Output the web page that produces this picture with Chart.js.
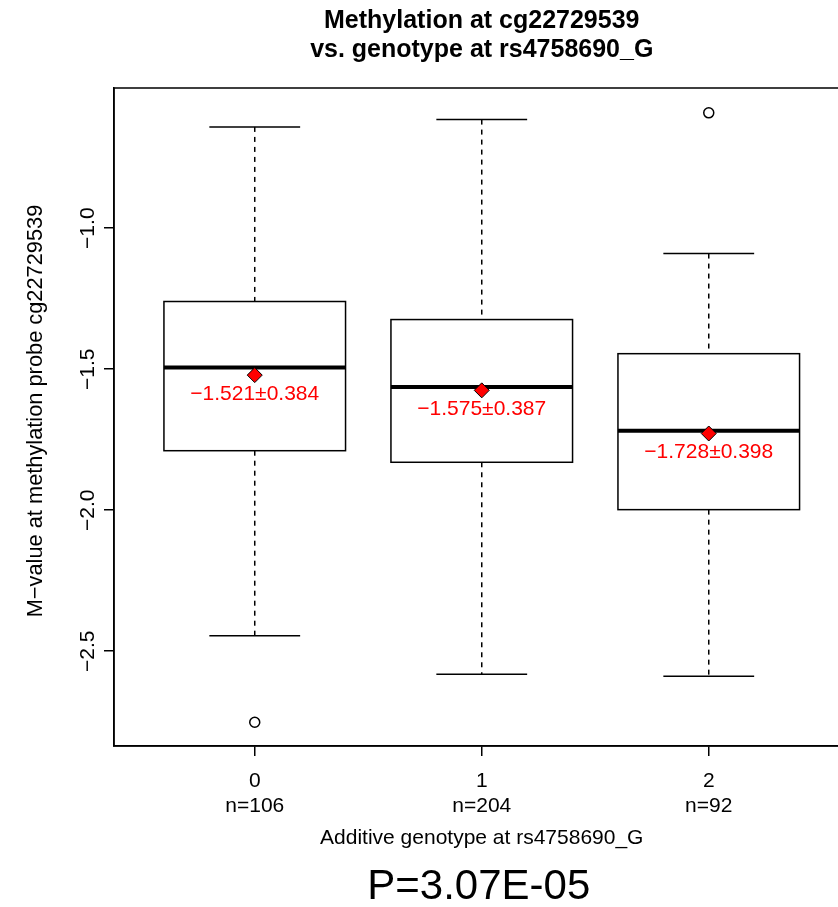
<!DOCTYPE html>
<html>
<head>
<meta charset="utf-8">
<script src="https://cdn.jsdelivr.net/npm/chart.js@4"></script>
<style>
  html, body { margin: 0; padding: 0; background: #fff; overflow: hidden; }
</style>
</head>
<body>
<canvas id="chart" width="870" height="907"></canvas>
<script>
// genotype groups and summary stats
const genotypes = [0, 1, 2];
const counts = [106, 204, 92];
const whiskerHigh = [-0.641, -0.615, -1.090];
const q3 = [-1.260, -1.324, -1.445];
const medians = [-1.494, -1.563, -1.718];
const q1 = [-1.789, -1.830, -1.998];
const whiskerLow = [-2.445, -2.582, -2.589];
const means = [-1.521, -1.575, -1.728];
const sds = [0.384, 0.387, 0.398];
const outlierX = [0, 2];
const outlierY = [-2.752, -0.591];
const yTicks = [-2.5, -2.0, -1.5, -1.0];

const FONT = '"Liberation Sans", Arial, Helvetica, sans-serif';
const BOX_WIDTH = 0.8;
const minus = s => s.replace('-', '\u2212');

const boxPlugin = {
    id: 'boxes',
    beforeDatasetsDraw(chart) {
        const { ctx, scales: { x, y } } = chart;
        const line = (x1, y1, x2, y2) => {
            ctx.beginPath();
            ctx.moveTo(x1, y1);
            ctx.lineTo(x2, y2);
            ctx.stroke();
        };
        ctx.save();
        ctx.strokeStyle = '#000';
        genotypes.forEach((g, i) => {
            const cx = x.getPixelForValue(g);
            const hw = x.getPixelForValue(g + BOX_WIDTH / 2) - cx;
            const sw = hw / 2;
            const yHi = y.getPixelForValue(whiskerHigh[i]);
            const yQ3 = y.getPixelForValue(q3[i]);
            const yMed = y.getPixelForValue(medians[i]);
            const yQ1 = y.getPixelForValue(q1[i]);
            const yLo = y.getPixelForValue(whiskerLow[i]);

            // dashed whiskers
            ctx.lineWidth = 1.5;
            ctx.setLineDash([5, 5]);
            line(cx, yHi, cx, yQ3);
            line(cx, yQ1, cx, yLo);
            ctx.setLineDash([]);
            // staples
            line(cx - sw, yHi, cx + sw, yHi);
            line(cx - sw, yLo, cx + sw, yLo);
            // box
            ctx.strokeRect(cx - hw, yQ3, 2 * hw, yQ1 - yQ3);
            // median
            ctx.lineWidth = 4;
            ctx.lineCap = 'butt';
            line(cx - hw, yMed, cx + hw, yMed);
        });
        ctx.restore();
    },
    afterDraw(chart) {
        const { ctx, chartArea: area, scales: { x, y } } = chart;
        const midX = (area.left + area.right) / 2;
        ctx.save();

        // mean +- sd labels
        ctx.fillStyle = '#ff0000';
        ctx.font = '21px ' + FONT;
        ctx.textAlign = 'center';
        ctx.textBaseline = 'middle';
        genotypes.forEach((g, i) => {
            const label = minus(means[i].toFixed(3)) + '\u00b1' + sds[i].toFixed(3);
            ctx.fillText(label, x.getPixelForValue(g), y.getPixelForValue(means[i]) + 19);
        });

        // frame
        ctx.strokeStyle = '#000';
        ctx.lineWidth = 1.5;
        ctx.strokeRect(area.left, area.top, area.right - area.left, area.bottom - area.top);

        ctx.fillStyle = '#000';
        // y tick labels, rotated like R
        yTicks.forEach(v => {
            ctx.save();
            ctx.translate(88, y.getPixelForValue(v));
            ctx.rotate(-Math.PI / 2);
            ctx.fillText(minus(v.toFixed(1)), 0, 0);
            ctx.restore();
        });

        // y axis title
        ctx.save();
        ctx.font = '21.8px ' + FONT;
        ctx.translate(36, 411);
        ctx.rotate(-Math.PI / 2);
        ctx.fillText('M\u2212value at methylation probe cg22729539', 0, 0);
        ctx.restore();

        // x axis title
        ctx.fillText('Additive genotype at rs4758690_G', midX, 838);

        // main title
        ctx.font = 'bold 25px ' + FONT;
        ctx.fillText('Methylation at cg22729539', midX, 21);
        ctx.fillText('vs. genotype at rs4758690_G', midX, 50);

        // p-value
        ctx.font = '42px ' + FONT;
        ctx.fillText('P=3.07E-05', midX - 3, 887);
        ctx.restore();
    }
};

const ctx = document.getElementById('chart').getContext('2d');
new Chart(ctx, {
    type: 'scatter',
    data: {
        datasets: [
            {
                label: 'mean',
                data: genotypes.map((g, i) => ({ x: g, y: means[i] })),
                pointStyle: 'rectRot',
                pointRadius: 7.5,
                backgroundColor: '#ff0000',
                borderColor: '#000',
                borderWidth: 1
            },
            {
                label: 'outliers',
                data: outlierX.map((g, i) => ({ x: g, y: outlierY[i] })),
                pointStyle: 'circle',
                pointRadius: 5,
                backgroundColor: 'rgba(0,0,0,0)',
                borderColor: '#000',
                borderWidth: 1.5
            }
        ]
    },
    options: {
        responsive: false,
        animation: false,
        devicePixelRatio: 1,
        layout: { padding: { top: 88, right: 20.5, left: 0, bottom: 0 } },
        scales: {
            x: {
                type: 'linear',
                min: -0.62,
                max: 2.62,
                afterBuildTicks: scale => { scale.ticks = genotypes.map(v => ({ value: v })); },
                afterFit: scale => { scale.height = 161; },
                grid: { drawOnChartArea: false, drawTicks: true, tickLength: 10, color: '#000', lineWidth: 1.5 },
                border: { display: true, color: '#000', width: 1.5 },
                ticks: {
                    padding: 12.5,
                    color: '#000',
                    maxRotation: 0,
                    font: { size: 21, family: FONT, lineHeight: 25 / 21 },
                    callback: (value, index) => [String(genotypes[index]), 'n=' + counts[index]]
                }
            },
            y: {
                min: -2.836,
                max: -0.503,
                afterBuildTicks: scale => { scale.ticks = yTicks.map(v => ({ value: v })); },
                afterFit: scale => { scale.width = 114; },
                grid: { drawOnChartArea: false, drawTicks: true, tickLength: 10, color: '#000', lineWidth: 1.5 },
                border: { display: true, color: '#000', width: 1.5 },
                ticks: { display: false }
            }
        },
        plugins: {
            legend: { display: false },
            tooltip: { enabled: false }
        }
    },
    plugins: [boxPlugin]
});
</script>
</body>
</html>
